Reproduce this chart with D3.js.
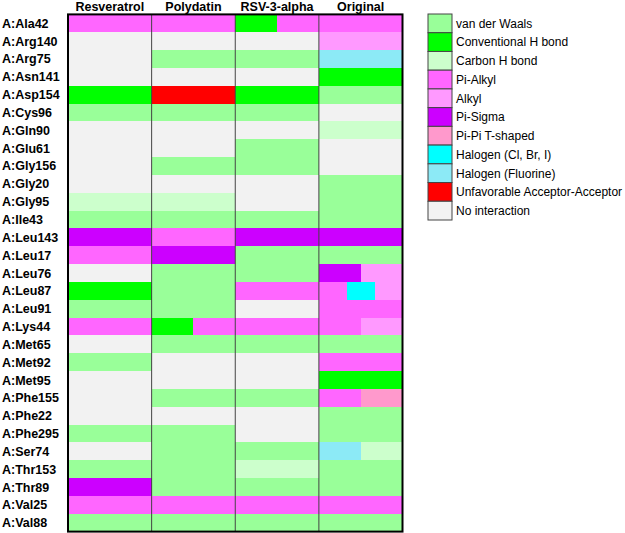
<!DOCTYPE html>
<html>
<head>
<meta charset="utf-8">
<script src="https://cdn.jsdelivr.net/npm/d3@7"></script>
<style>
  body { margin: 0; background: #fff; }
  svg { display: block; font-family: "Liberation Sans", Arial, sans-serif; }
</style>
</head>
<body>
<div id="chart"></div>
<script>
// residues (rows) and compounds (columns)
var residues = ["A:Ala42", "A:Arg140", "A:Arg75", "A:Asn141", "A:Asp154", "A:Cys96", "A:Gln90",
  "A:Glu61", "A:Gly156", "A:Gly20", "A:Gly95", "A:Ile43", "A:Leu143", "A:Leu17", "A:Leu76",
  "A:Leu87", "A:Leu91", "A:Lys44", "A:Met65", "A:Met92", "A:Met95", "A:Phe155", "A:Phe22",
  "A:Phe295", "A:Ser74", "A:Thr153", "A:Thr89", "A:Val25", "A:Val88"];
var compounds = ["Resveratrol", "Polydatin", "RSV-3-alpha", "Original"];

// interaction types + colours (legend order)
var interactionTypes = ["van der Waals", "Conventional H bond", "Carbon H bond", "Pi-Alkyl", "Alkyl",
  "Pi-Sigma", "Pi-Pi T-shaped", "Halogen (Cl, Br, I)", "Halogen (Fluorine)",
  "Unfavorable Acceptor-Acceptor", "No interaction"];
var interactionColors = ["#99ff99", "#00ff00", "#ccffcc", "#ff66ff", "#ff99ff",
  "#cc00ff", "#ff99cc", "#00ffff", "#8ceaf6", "#ff0000", "#f2f2f2"];

// codes: V=vdW, H=conv H, C=carbon H, PA=pi-alkyl, A=alkyl, PS=pi-sigma,
// PT=pi-pi T, X=halogen, F=fluorine, U=unfavorable, N=none ; "a|b" = split cell
var resveratrol = ["PA", "N", "N", "N", "H", "V", "N", "N", "N", "N", "C", "V", "PS", "PA", "N",
  "H", "V", "PA", "N", "V", "N", "N", "N", "V", "N", "V", "PS", "PA", "V"];
var polydatin = ["PA", "N", "V", "N", "U", "V", "N", "N", "V", "N", "C", "V", "PA", "PS", "V",
  "V", "V", "H|PA", "V", "N", "N", "V", "N", "V", "V", "V", "V", "PA", "V"];
var rsv3alpha = ["H|PA", "N", "V", "N", "H", "V", "N", "V", "V", "N", "N", "V", "PS", "V", "V",
  "PA", "N", "PA", "V", "N", "N", "V", "N", "N", "V", "C", "V", "PA", "V"];
var original = ["PA", "A", "F", "H", "V", "N", "C", "N", "N", "V", "V", "V", "PS", "V", "PS|A",
  "PA|X|A", "PA", "PA|A", "V", "PA", "H", "PA|PT", "V", "V", "F|C", "V", "V", "PA", "V"];

var codeKeys = ["V", "H", "C", "PA", "A", "PS", "PT", "X", "F", "U", "N"];

var width = 625, height = 533;
var grid = {left: 68, right: 402.5, top: 14.4, bottom: 531.6};

var svg = d3.select("#chart").append("svg")
  .attr("width", width)
  .attr("height", height);

var x = d3.scaleBand().domain(compounds).range([grid.left, grid.right]);
var y = d3.scaleBand().domain(residues).range([grid.top, grid.bottom]);
var color = d3.scaleOrdinal().domain(codeKeys).range(interactionColors);

var columns = [resveratrol, polydatin, rsv3alpha, original];

// flatten into cells (split cells share the column width)
var cells = [];
columns.forEach(function(col, ci) {
  col.forEach(function(code, ri) {
    var parts = code.split("|");
    parts.forEach(function(p, pi) {
      cells.push({compound: compounds[ci], residue: residues[ri], code: p, part: pi, n: parts.length});
    });
  });
});

svg.append("g")
  .selectAll("rect")
  .data(cells)
  .enter()
  .append("rect")
    .attr("x", function(d) { return x(d.compound) + d.part * x.bandwidth() / d.n; })
    .attr("y", function(d) { return y(d.residue); })
    .attr("width", function(d) { return x.bandwidth() / d.n + 0.3; })
    .attr("height", y.bandwidth() + 0.3)
    .attr("shape-rendering", "crispEdges")
    .style("fill", function(d) { return color(d.code); });

// column separators
svg.append("g")
  .selectAll("line")
  .data(compounds.slice(1))
  .enter()
  .append("line")
    .attr("x1", function(d) { return x(d); })
    .attr("x2", function(d) { return x(d); })
    .attr("y1", grid.top)
    .attr("y2", grid.bottom)
    .attr("stroke", "#444")
    .attr("stroke-width", 1);

// outer border
svg.append("rect")
  .attr("x", grid.left)
  .attr("y", grid.top)
  .attr("width", grid.right - grid.left)
  .attr("height", grid.bottom - grid.top)
  .attr("fill", "none")
  .attr("stroke", "#000")
  .attr("stroke-width", 2);

// column headers
svg.append("g")
  .selectAll("text")
  .data(compounds)
  .enter()
  .append("text")
    .attr("x", function(d) { return x(d) + x.bandwidth() / 2; })
    .attr("y", 11)
    .attr("text-anchor", "middle")
    .attr("font-size", "12.5px")
    .attr("font-weight", "bold")
    .text(function(d) { return d; });

// row labels
svg.append("g")
  .selectAll("text")
  .data(residues)
  .enter()
  .append("text")
    .attr("x", 2)
    .attr("y", function(d) { return y(d) + y.bandwidth() / 2; })
    .attr("dy", "0.36em")
    .attr("font-size", "12.5px")
    .attr("font-weight", "bold")
    .text(function(d) { return d; });

// legend
var legendY = d3.scaleBand().domain(interactionTypes).range([14, 220]);
var legend = svg.append("g");

legend.selectAll("rect")
  .data(interactionTypes)
  .enter()
  .append("rect")
    .attr("x", 428)
    .attr("y", function(d) { return legendY(d); })
    .attr("width", 24)
    .attr("height", legendY.bandwidth())
    .style("fill", function(d, i) { return interactionColors[i]; })
    .attr("stroke", "#444")
    .attr("stroke-width", 1);

legend.selectAll("text")
  .data(interactionTypes)
  .enter()
  .append("text")
    .attr("x", 456)
    .attr("y", function(d) { return legendY(d) + legendY.bandwidth() / 2; })
    .attr("dy", "0.36em")
    .attr("font-size", "12px")
    .text(function(d) { return d; });
</script>
</body>
</html>
